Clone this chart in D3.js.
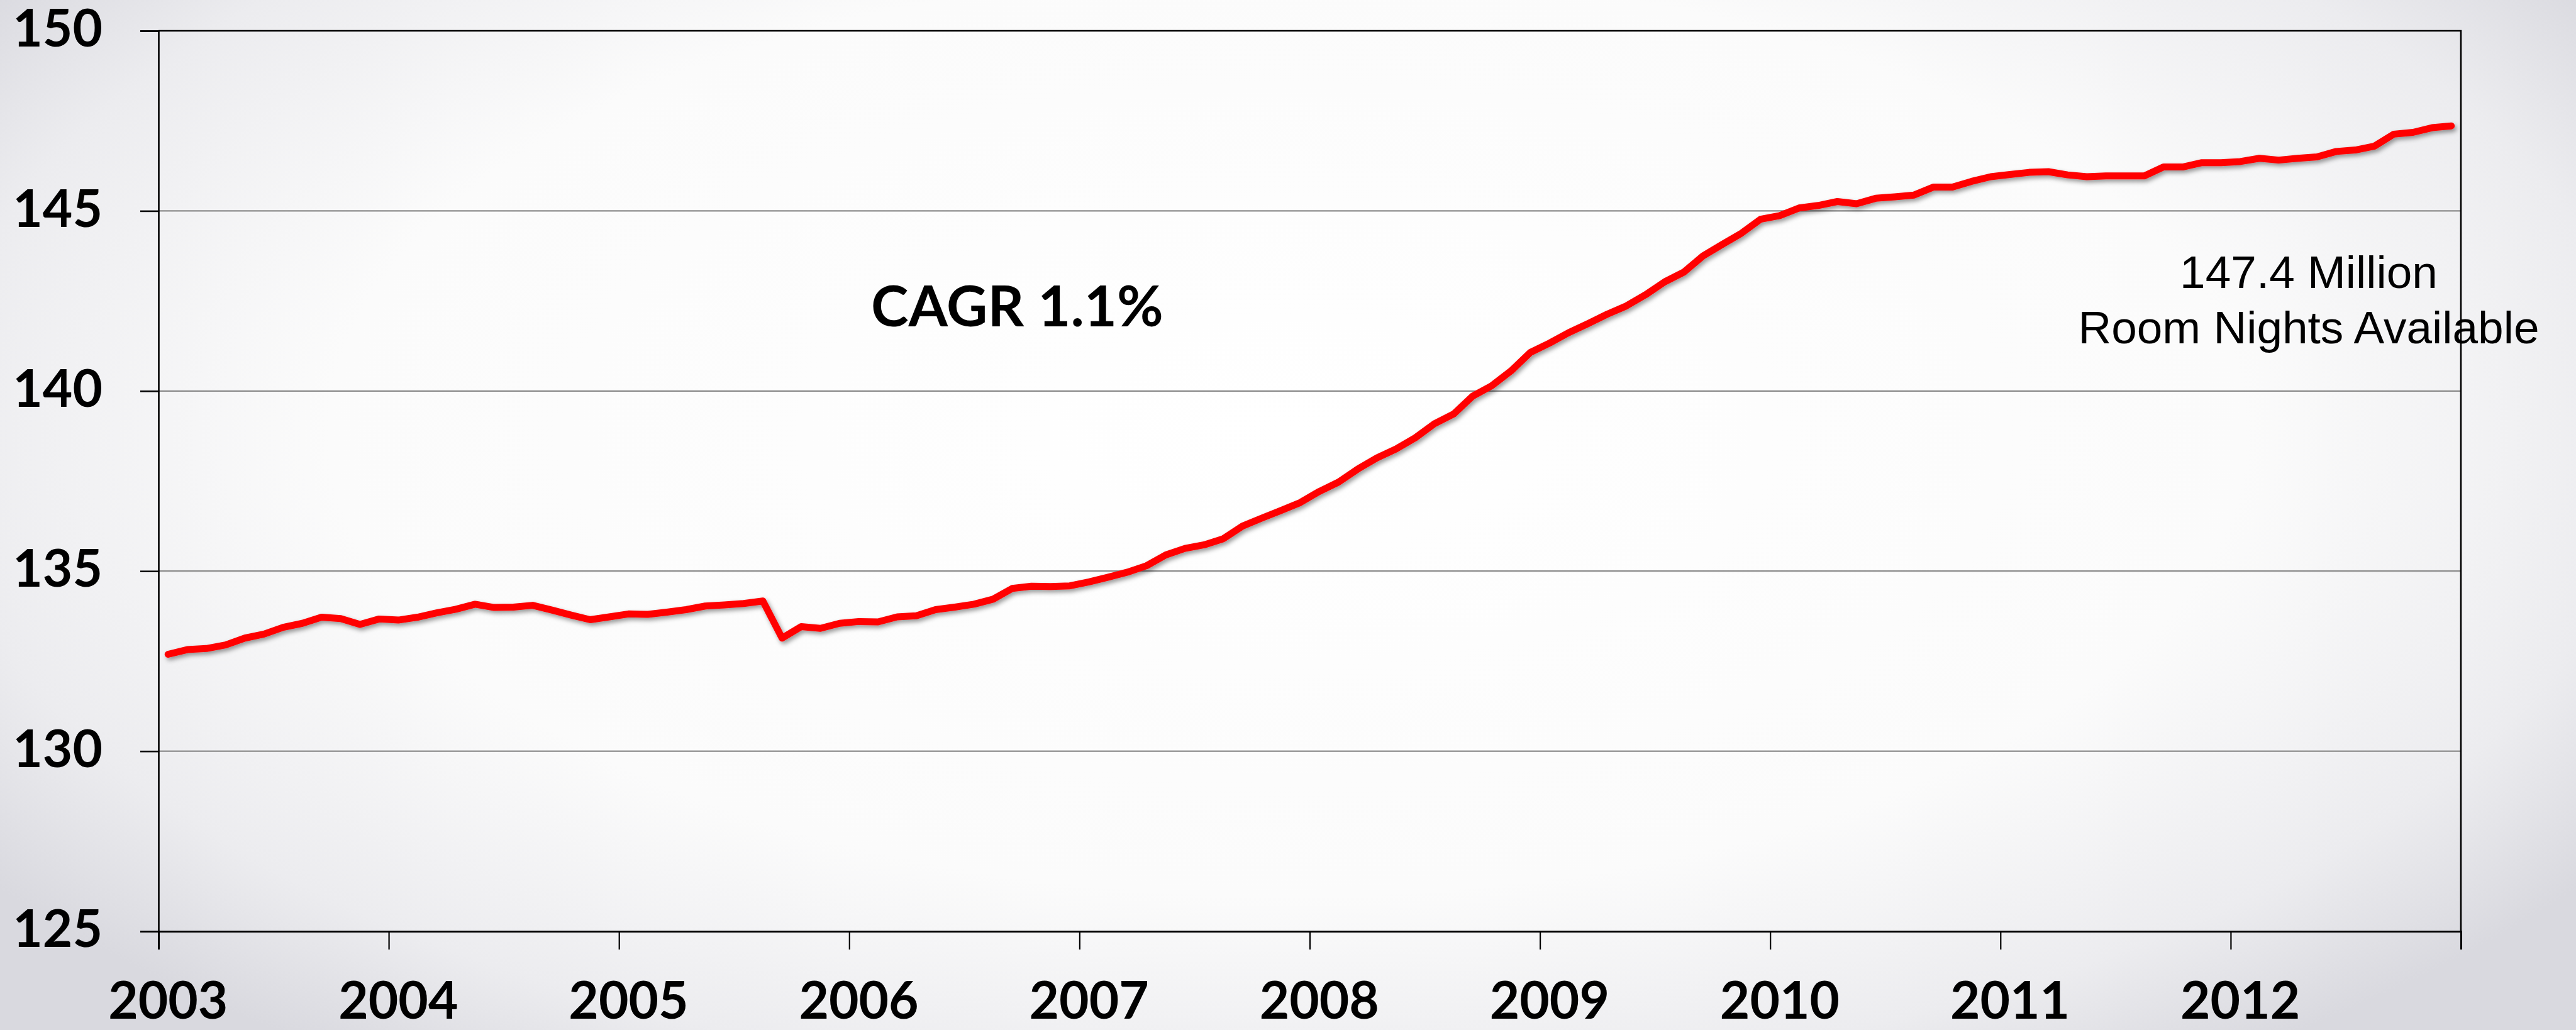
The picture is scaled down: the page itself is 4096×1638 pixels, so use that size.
<!DOCTYPE html>
<html>
<head>
<meta charset="utf-8">
<script src="https://cdn.jsdelivr.net/npm/d3@7"></script>
<style>
  html, body { margin: 0; padding: 0; }
  body {
    width: 4096px; height: 1638px; overflow: hidden;
    background: radial-gradient(ellipse 62% 75% at 50% 42%, #ffffff 0%, #fbfbfb 60%, #ececef 85%, #d9d9df 100%);
  }
  svg { display: block; }
</style>
</head>
<body>
<svg id="chart"></svg>
<script>
// monthly room nights available (millions), Jan 2003 .. Dec 2012
var roomNights = [
  132.69, 132.82, 132.85, 132.95, 133.14, 133.25, 133.44, 133.55, 133.72, 133.68, 133.52, 133.67,
  133.64, 133.72, 133.84, 133.94, 134.08, 133.99, 134.00, 134.05, 133.92, 133.78, 133.65, 133.73,
  133.81, 133.80, 133.86, 133.93, 134.03, 134.06, 134.10, 134.17, 133.14, 133.46, 133.41, 133.55,
  133.60, 133.59, 133.73, 133.76, 133.93, 134.00, 134.08, 134.22, 134.52, 134.58, 134.57, 134.59,
  134.70, 134.83, 134.97, 135.15, 135.45, 135.63, 135.73, 135.90, 136.25, 136.47, 136.68, 136.90,
  137.21, 137.47, 137.83, 138.14, 138.39, 138.70, 139.09, 139.36, 139.86, 140.15, 140.56, 141.07,
  141.33, 141.62, 141.87, 142.13, 142.36, 142.67, 143.03, 143.30, 143.75, 144.07, 144.38, 144.77,
  144.87, 145.08, 145.15, 145.26, 145.20, 145.35, 145.39, 145.44, 145.66, 145.66, 145.82, 145.95,
  146.01, 146.07, 146.09, 146.00, 145.95, 145.97, 145.97, 145.97, 146.22, 146.22, 146.34, 146.34,
  146.37, 146.46, 146.41, 146.46, 146.50, 146.65, 146.69, 146.80, 147.13, 147.18, 147.31, 147.36
];
var years = ["2003", "2004", "2005", "2006", "2007", "2008", "2009", "2010", "2011", "2012"];
var yTicks = [125, 130, 135, 140, 145, 150];
var cagrLabel = "CAGR 1.1%";
var endLabel = ["147.4 Million", "Room Nights Available"];

var W = 4096, H = 1638;
var margin = {left: 252, right: 3913, top: 49, bottom: 1481};
var tick = 29;
var labelFont = "Lato, 'Open Sans', sans-serif";

var svg = d3.select("#chart").attr("width", W).attr("height", H);

var x = d3.scaleLinear().domain([0, roomNights.length]).range([margin.left, margin.right]);
var y = d3.scaleLinear().domain([125, 150]).range([margin.bottom, margin.top]);

// drop shadow for the line
var defs = svg.append("defs");
defs.append("filter").attr("id", "shadow")
    .attr("x", "-5%").attr("y", "-20%").attr("width", "110%").attr("height", "140%")
  .append("feDropShadow")
    .attr("dx", 3).attr("dy", 4).attr("stdDeviation", 3.5)
    .attr("flood-color", "#000").attr("flood-opacity", 0.4);

// gridlines
svg.append("g")
  .selectAll("line")
  .data(yTicks.filter(function(d) { return d > 125 && d < 150; }))
  .join("line")
    .attr("x1", margin.left).attr("x2", margin.right)
    .attr("y1", function(d) { return y(d); })
    .attr("y2", function(d) { return y(d); })
    .attr("stroke", "#8c8c8c")
    .attr("stroke-width", 2.2);

// plot border (top and right)
svg.append("path")
    .attr("d", "M" + margin.left + "," + y(150) + "H" + margin.right + "V" + margin.bottom)
    .attr("fill", "none")
    .attr("stroke", "#000")
    .attr("stroke-width", 2.6);

// y axis
var yAxis = svg.append("g")
    .attr("transform", "translate(" + margin.left + ",0)")
    .call(d3.axisLeft(y).tickValues(yTicks).tickSize(tick).tickPadding(60).tickFormat(d3.format("d")));
yAxis.select(".domain").attr("stroke-width", 2.6);
yAxis.selectAll(".tick line").attr("stroke-width", 2.6);
yAxis.selectAll(".tick text")
    .attr("font-family", labelFont)
    .attr("font-weight", 700)
    .attr("font-size", 82)
    .attr("fill", "#000")
    .attr("dy", "0.3em");

// x axis: ticks at year boundaries
var xAxis = svg.append("g")
    .attr("transform", "translate(0," + margin.bottom + ")")
    .call(d3.axisBottom(x).tickValues(d3.range(0, roomNights.length + 1, 12)).tickSize(tick).tickFormat(""));
xAxis.select(".domain").attr("stroke-width", 3);
xAxis.selectAll(".tick line").attr("stroke-width", 2.2);

// year labels, centred on January of each year
svg.append("g")
  .selectAll("text")
  .data(years)
  .join("text")
    .attr("x", function(d, i) { return x(i * 12 + 0.5); })
    .attr("y", 1620)
    .attr("text-anchor", "middle")
    .attr("font-family", labelFont)
    .attr("font-weight", 700)
    .attr("font-size", 82)
    .text(function(d) { return d; });

// the line
var line = d3.line()
    .x(function(d, i) { return x(i + 0.5); })
    .y(function(d) { return y(d); });

svg.append("path")
    .datum(roomNights)
    .attr("d", line)
    .attr("fill", "none")
    .attr("stroke", "#ff0000")
    .attr("stroke-width", 11)
    .attr("stroke-linejoin", "round")
    .attr("stroke-linecap", "round")
    .attr("filter", "url(#shadow)");

// annotations
svg.append("text")
    .attr("x", 1385).attr("y", 519)
    .attr("font-family", labelFont)
    .attr("font-weight", 700)
    .attr("font-size", 90)
    .text(cagrLabel);

svg.append("g")
  .selectAll("text")
  .data(endLabel)
  .join("text")
    .attr("x", 3671)
    .attr("y", function(d, i) { return 458 + i * 88; })
    .attr("text-anchor", "middle")
    .attr("font-family", "'Liberation Sans', Arial, sans-serif")
    .attr("font-size", 73)
    .text(function(d) { return d; });
</script>
</body>
</html>
